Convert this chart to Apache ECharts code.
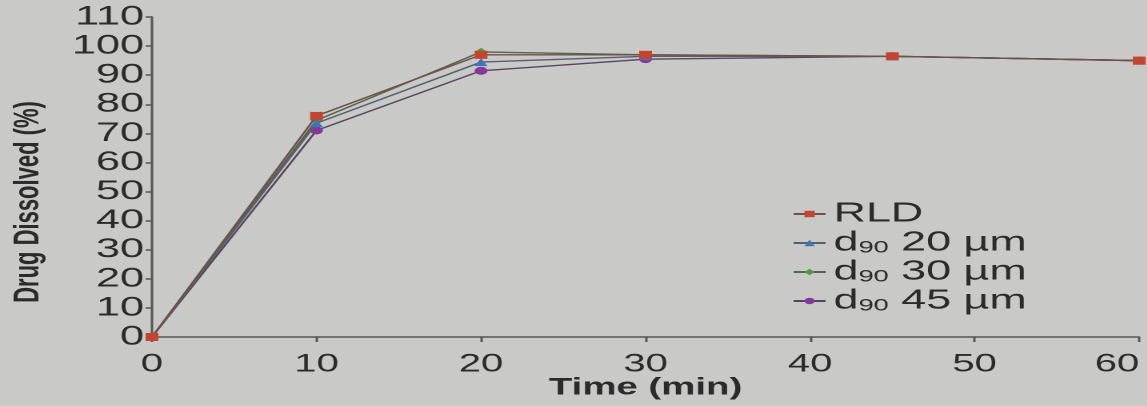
<!DOCTYPE html>
<html>
<head>
<meta charset="utf-8">
<script src="https://cdn.jsdelivr.net/npm/echarts@6/dist/echarts.min.js"></script>
<style>
  html, body { margin: 0; padding: 0; background: #c9c9c7; overflow: hidden; }
  /* the figure is laid out narrow and widened horizontally, giving the wide lettering */
  #chart { width: 717px; height: 406px; transform: scaleX(1.6); transform-origin: 0 0; }
</style>
</head>
<body>
<div id="chart"></div>
<script>
// Dissolution profile: sampling times (min) and percent of drug dissolved
const timePoints = [0, 10, 20, 30, 45, 60];
const rld    = [0, 76, 97, 97, 96.5, 95];
const d90_20 = [0, 73.5, 94.5, 96.5, 96.5, 95];
const d90_30 = [0, 74.5, 98, 97, 96.5, 95];
const d90_45 = [0, 71, 91.5, 95.5, 96.5, 95];

const seriesNames = ['RLD', 'd90 20 µm', 'd90 30 µm', 'd90 45 µm'];
const seriesData = [rld, d90_20, d90_30, d90_45];
const markerColors = ['#c4452f', '#3f74b6', '#4f9a3e', '#86389a'];
const lineColors = ['#6e5248', '#56606e', '#57654d', '#574660'];
const symbols = ['rect', 'triangle', 'diamond', 'circle'];

const FONT = 'Liberation Sans, Arial, Helvetica, sans-serif';
const INK = '#2b2b2b';

const chart = echarts.init(document.getElementById('chart'), null, { devicePixelRatio: 2 });

const series = seriesNames.map((name, i) => ({
  name: name,
  type: 'line',
  data: timePoints.map((t, k) => [t, seriesData[i][k]]),
  symbol: symbols[i],
  symbolSize: 8,
  itemStyle: { color: markerColors[i] },
  lineStyle: { color: lineColors[i], width: 1.4 },
  z: 10 - i
}));

chart.setOption({
  backgroundColor: '#c9c9c7',
  animation: false,
  grid: { left: 95, right: 5, top: 17, bottom: 69, containLabel: false, outerBoundsMode: 'none' },
  legend: {
    orient: 'vertical',
    left: 490,
    top: 195,
    itemWidth: 20,
    itemHeight: 8,
    itemGap: 1,
    data: seriesNames,
    formatter: function (name) {
      if (name.indexOf('d90') === 0) {
        return '{t|d}{sub|90}{t|' + name.slice(3) + '}';
      }
      return '{t|' + name + '}';
    },
    textStyle: {
      color: INK,
      rich: {
        t: { fontFamily: FONT, fontSize: 28, color: INK, lineHeight: 29 },
        sub: { fontFamily: FONT, fontSize: 17, color: INK, lineHeight: 29, padding: [10, 0, 0, 0] }
      }
    }
  },
  xAxis: {
    type: 'value',
    min: 0,
    max: 60,
    interval: 10,
    name: 'Time (min)',
    nameLocation: 'middle',
    nameGap: 39,
    nameMoveOverlap: false,
    nameTextStyle: { fontFamily: FONT, fontWeight: 'bold', fontSize: 24, color: INK },
    axisLine: { lineStyle: { color: '#565656', width: 1.5 } },
    axisTick: { show: true, length: 5, lineStyle: { color: '#565656', width: 1.5 } },
    axisLabel: { fontFamily: FONT, fontSize: 25, color: INK, margin: 15, alignMaxLabel: 'right' },
    splitLine: { show: false }
  },
  yAxis: {
    type: 'value',
    min: 0,
    max: 110,
    interval: 10,
    name: 'Drug Dissolved (%)',
    nameLocation: 'middle',
    nameGap: 66,
    nameRotate: 90,
    nameMoveOverlap: false,
    nameTextStyle: { fontFamily: FONT, fontWeight: 'bold', fontSize: 22, color: INK, padding: [0, 50, 0, 0] },
    axisLine: { show: true, lineStyle: { color: '#565656', width: 1.5 } },
    axisTick: { show: true, length: 4, lineStyle: { color: '#565656', width: 1.5 } },
    axisLabel: { fontFamily: FONT, fontSize: 27, color: INK, margin: 5 },
    splitLine: { show: false }
  },
  series: series
});
</script>
</body>
</html>
